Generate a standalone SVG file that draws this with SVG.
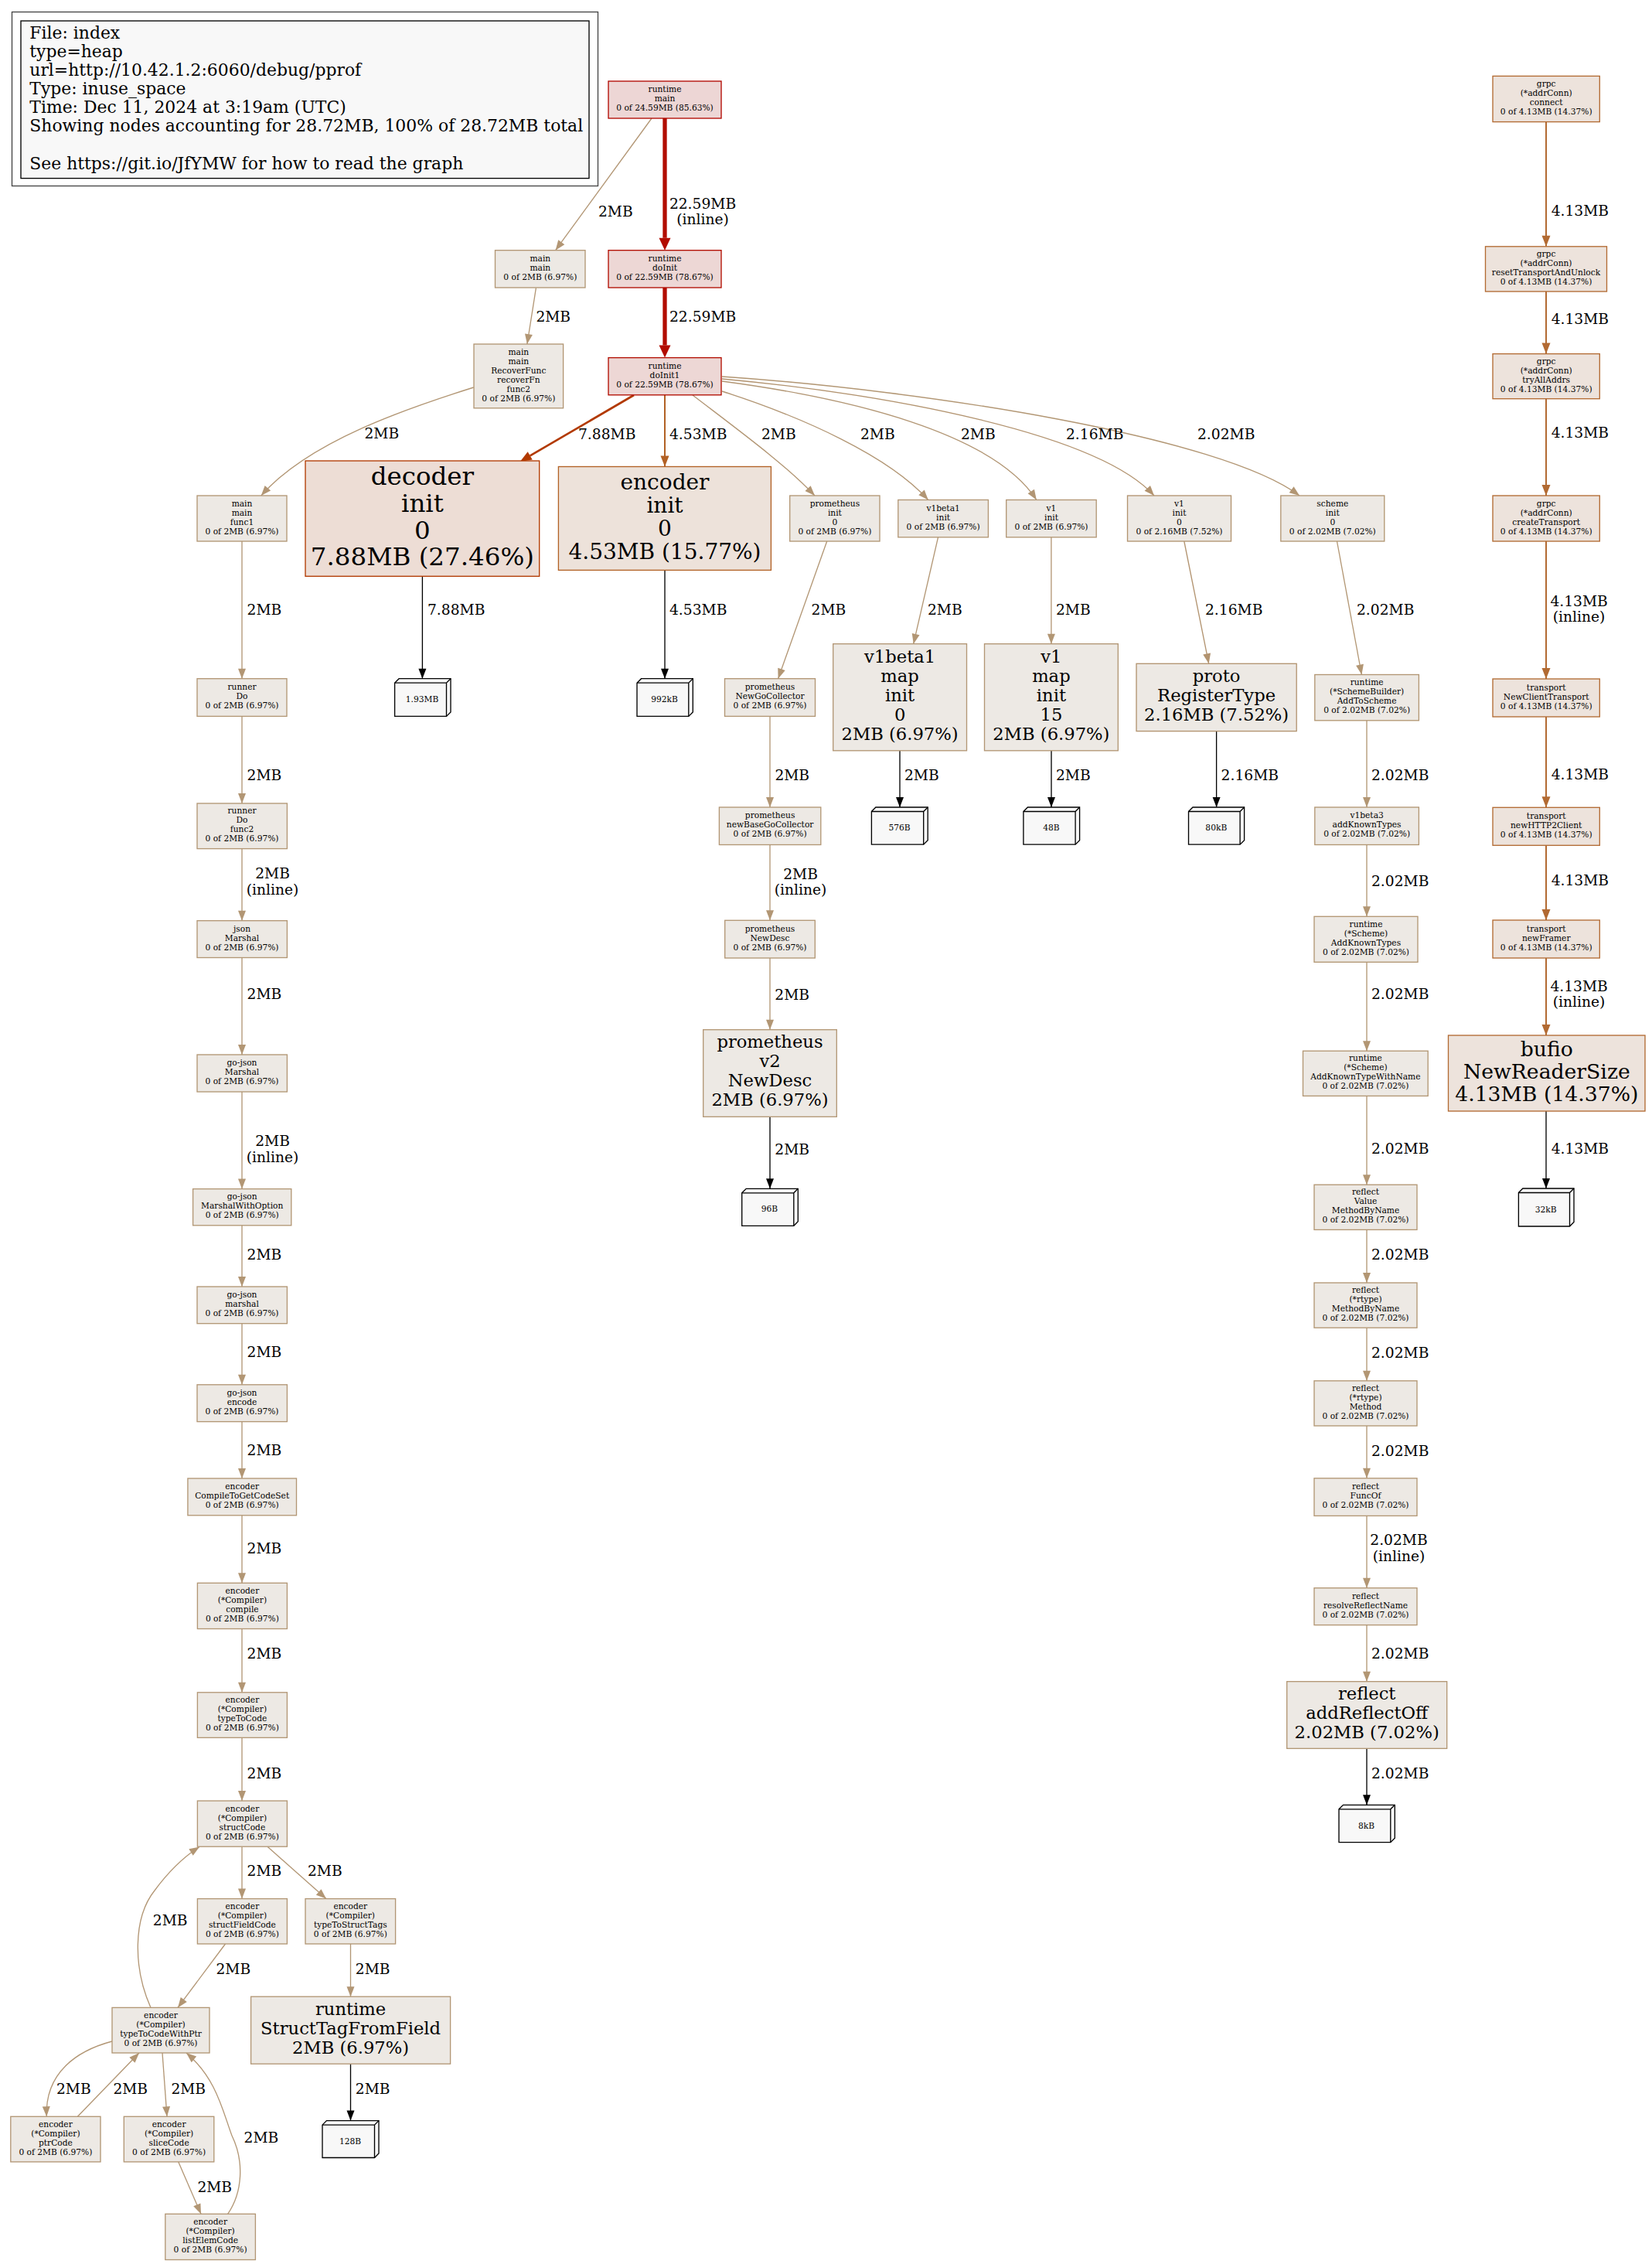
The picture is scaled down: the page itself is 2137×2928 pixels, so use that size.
<svg xmlns="http://www.w3.org/2000/svg" width="2137" height="2928" viewBox="0 0 2137 2928">
<style>
text{font-family:"DejaVu Serif","Liberation Serif",serif;fill:#000}
.s{font-size:10.67px;text-anchor:middle}
.e{font-size:18.67px}
.em{font-size:18.67px;text-anchor:middle}
.lg{font-size:21.9px}
.b32{font-size:32.5px;text-anchor:middle}
.b28{font-size:28px;text-anchor:middle}
.b26{font-size:26.67px;text-anchor:middle}
.b22{font-size:22.67px;text-anchor:middle}
rect,.leaf{stroke-width:1.33}
.c2{fill:#ede9e4;stroke:#b29674}
.c216{fill:#ede9e4;stroke:#b2936f}
.c202{fill:#ede9e4;stroke:#b29673}
.crm{fill:#edd6d5;stroke:#b20800}
.cri{fill:#edd7d5;stroke:#b20c00}
.cdec{fill:#edddd5;stroke:#b23900}
.cenc{fill:#ede2da;stroke:#b26125}
.cgr{fill:#ede3dc;stroke:#b26a32}
.leaf{fill:#f8f8f8;stroke:#000}
.leafl{fill:none;stroke:#000;stroke-width:1.33}
#edges path{fill:none}
.k2{stroke:#b29674;stroke-width:1.33;marker-end:url(#a2)}
.k216{stroke:#b2936f;stroke-width:1.33;marker-end:url(#a216)}
.k202{stroke:#b29673;stroke-width:1.33;marker-end:url(#a202)}
.kred{stroke:#b20c00;stroke-width:5.3;marker-end:url(#ared)}
.kdec{stroke:#b23900;stroke-width:2.67;marker-end:url(#adec)}
.kenc{stroke:#b26125;stroke-width:2;marker-end:url(#aenc)}
.kgr{stroke:#b26a32;stroke-width:2;marker-end:url(#agr)}
.kblk{stroke:#000;stroke-width:1.33;marker-end:url(#ablk)}
</style>
<defs>
<marker id="a2" markerUnits="userSpaceOnUse" markerWidth="14" markerHeight="11" refX="13" refY="5" orient="auto" overflow="visible"><path d="M0,0 L13,5 L0,10 z" fill="#b29674"/></marker>
<marker id="a216" markerUnits="userSpaceOnUse" markerWidth="14" markerHeight="11" refX="13" refY="5" orient="auto" overflow="visible"><path d="M0,0 L13,5 L0,10 z" fill="#b2936f"/></marker>
<marker id="a202" markerUnits="userSpaceOnUse" markerWidth="14" markerHeight="11" refX="13" refY="5" orient="auto" overflow="visible"><path d="M0,0 L13,5 L0,10 z" fill="#b29673"/></marker>
<marker id="ablk" markerUnits="userSpaceOnUse" markerWidth="14" markerHeight="11" refX="13" refY="5" orient="auto" overflow="visible"><path d="M0,0 L13,5 L0,10 z" fill="#000"/></marker>
<marker id="aenc" markerUnits="userSpaceOnUse" markerWidth="15" markerHeight="12" refX="14" refY="5.5" orient="auto" overflow="visible"><path d="M0,0 L14,5.5 L0,11 z" fill="#b26125"/></marker>
<marker id="agr" markerUnits="userSpaceOnUse" markerWidth="15" markerHeight="12" refX="14" refY="5.5" orient="auto" overflow="visible"><path d="M0,0 L14,5.5 L0,11 z" fill="#b26a32"/></marker>
<marker id="ared" markerUnits="userSpaceOnUse" markerWidth="17" markerHeight="16" refX="0" refY="7.5" orient="auto" overflow="visible"><path d="M0,0 L16,7.5 L0,15 z" fill="#b20c00"/></marker>
<marker id="adec" markerUnits="userSpaceOnUse" markerWidth="16" markerHeight="13" refX="0" refY="6" orient="auto" overflow="visible"><path d="M0,0 L15,6 L0,12 z" fill="#b23900"/></marker>
</defs>
<rect x="0" y="0" width="2137" height="2928" fill="#fff" stroke="none"/>

<g id="legend">
<rect x="15.5" y="15.5" width="758" height="225" fill="none" stroke="#444" stroke-width="2"/>
<rect x="27" y="27" width="735" height="203.6" fill="#f8f8f8" stroke="#000"/>
<text class="lg" x="38.3" y="49.5">File: index</text>
<text class="lg" x="38.3" y="73.6">type=heap</text>
<text class="lg" x="38.3" y="97.8">url=http://10.42.1.2:6060/debug/pprof</text>
<text class="lg" x="38.3" y="121.9">Type: inuse_space</text>
<text class="lg" x="38.3" y="146.1">Time: Dec 11, 2024 at 3:19am (UTC)</text>
<text class="lg" x="38.3" y="170.2">Showing nodes accounting for 28.72MB, 100% of 28.72MB total</text>
<text class="lg" x="38.3" y="218.6">See https://git.io/JfYMW for how to read the graph</text>
</g>

<g id="edges">
<path class="k2" d="M843,153 L718.6,323.7"/>
<path class="kred" d="M860,153 L860,307.7"/>
<path class="kred" d="M860,372 L860,446.6"/>
<path class="k2" d="M693.4,372.4 L681.9,445"/>
<path class="k2" d="M612.7,501 C530,527 400,570 337.8,641"/>
<path class="kdec" d="M820,511 L685.7,589.4"/>
<path class="kenc" d="M860,510.8 L860,603.5"/>
<path class="k2" d="M896,511 C960,560 1015,600 1054,641"/>
<path class="k2" d="M934,506 C1040,540 1150,590 1200.7,646.5"/>
<path class="k2" d="M934,493 C1100,515 1285,560 1340.8,646.5"/>
<path class="k216" d="M934,490 C1150,510 1420,560 1493,641"/>
<path class="k202" d="M934,487 C1200,505 1580,565 1681,641"/>
<path class="k2" d="M313,700 L313,877.7"/>
<path class="kblk" d="M546.4,745.3 L546.4,877.7"/>
<path class="kblk" d="M860,737.4 L860,877.7"/>
<path class="k2" d="M1069.7,700 L1006.6,877.7"/>
<path class="k2" d="M1213.5,694.8 L1181.7,832.7"/>
<path class="k2" d="M1359.9,694.8 L1359.9,832.7"/>
<path class="k216" d="M1531.8,700 L1563.7,858.3"/>
<path class="k202" d="M1729.5,700 L1761.4,872.5"/>
<path class="k2" d="M313,926.4 L313,1039"/>
<path class="k2" d="M996,926.4 L996,1044"/>
<path class="kblk" d="M1164,970.8 L1164,1044"/>
<path class="kblk" d="M1360,970.8 L1360,1044"/>
<path class="kblk" d="M1573.6,945.6 L1573.6,1044"/>
<path class="k202" d="M1768,931.8 L1768,1044"/>
<path class="k2" d="M313,1097.6 L313,1190.7"/>
<path class="k2" d="M996,1092.5 L996,1190.3"/>
<path class="k202" d="M1768,1092.5 L1768,1185.3"/>
<path class="k2" d="M313,1238.5 L313,1364"/>
<path class="k2" d="M996,1239 L996,1331.7"/>
<path class="k202" d="M1768,1244.3 L1768,1359.2"/>
<path class="kblk" d="M996,1444.3 L996,1537.3"/>
<path class="k2" d="M313,1412 L313,1537.6"/>
<path class="k202" d="M1768,1417.4 L1768,1532.2"/>
<path class="k2" d="M313,1584.8 L313,1664"/>
<path class="k202" d="M1768,1590.4 L1768,1659"/>
<path class="k2" d="M313,1711.7 L313,1790.8"/>
<path class="k202" d="M1768,1717.2 L1768,1785.8"/>
<path class="k2" d="M313,1838.6 L313,1912"/>
<path class="k202" d="M1768,1844 L1768,1911.8"/>
<path class="k2" d="M313,1959.8 L313,2047.3"/>
<path class="k202" d="M1768,1960.4 L1768,2053.7"/>
<path class="k2" d="M313,2106.5 L313,2188.8"/>
<path class="k202" d="M1768,2101.6 L1768,2174.7"/>
<path class="kblk" d="M1768,2261.3 L1768,2334.3"/>
<path class="k2" d="M313,2247.3 L313,2329"/>
<path class="k2" d="M313,2388.2 L313,2455.6"/>
<path class="k2" d="M346,2388.2 L421.9,2455.6"/>
<path class="k2" d="M195,2596.4 C172,2545 172,2480 200,2445 C220,2418 240,2400 258,2388.5"/>
<path class="k2" d="M291.5,2514 L230,2596.4"/>
<path class="k2" d="M453.5,2514 L453.5,2582.2"/>
<path class="kblk" d="M453.5,2669.2 L453.5,2742.6"/>
<path class="k2" d="M145,2640 C100,2652 58,2680 60.3,2737.3"/>
<path class="k2" d="M100.4,2737.3 L180,2655"/>
<path class="k2" d="M210,2655 L216,2737.3"/>
<path class="k2" d="M230.8,2795.9 L260,2863.3"/>
<path class="k2" d="M294.6,2863.3 C314,2835 316,2795 300,2762 C288,2730 280,2688 241,2655"/>
<path class="kgr" d="M2000,157.6 L2000,318.8"/>
<path class="kgr" d="M2000,377 L2000,457.6"/>
<path class="kgr" d="M2000,515.7 L2000,641"/>
<path class="kgr" d="M2000,700 L2000,878"/>
<path class="kgr" d="M2000,927 L2000,1044.3"/>
<path class="kgr" d="M2000,1093.3 L2000,1190"/>
<path class="kgr" d="M2000,1239 L2000,1339"/>
<path class="kblk" d="M2000,1437 L2000,1537"/>
<g id="edge-labels">
<text class="e" x="774" y="279.5">2MB</text>
<text class="em" x="909" y="269.5">22.59MB</text>
<text class="em" x="909" y="290">(inline)</text>
<text class="e" x="866" y="416">22.59MB</text>
<text class="e" x="693.4" y="416.4">2MB</text>
<text class="e" x="471.5" y="567">2MB</text>
<text class="e" x="748" y="567.5">7.88MB</text>
<text class="e" x="866" y="567.5">4.53MB</text>
<text class="e" x="985" y="567.5">2MB</text>
<text class="e" x="1113" y="567.5">2MB</text>
<text class="e" x="1243" y="567.5">2MB</text>
<text class="e" x="1379" y="567.5">2.16MB</text>
<text class="e" x="1549" y="567.5">2.02MB</text>
<text class="e" x="319.6" y="794.5">2MB</text>
<text class="e" x="553" y="794.5">7.88MB</text>
<text class="e" x="866" y="794.5">4.53MB</text>
<text class="e" x="1049.6" y="794.5">2MB</text>
<text class="e" x="1200" y="794.5">2MB</text>
<text class="e" x="1366" y="794.5">2MB</text>
<text class="e" x="1559" y="794.5">2.16MB</text>
<text class="e" x="1755" y="794.5">2.02MB</text>
<text class="e" x="319.6" y="1009">2MB</text>
<text class="e" x="1002.4" y="1009">2MB</text>
<text class="e" x="1170" y="1009">2MB</text>
<text class="e" x="1366" y="1009">2MB</text>
<text class="e" x="1579.6" y="1009">2.16MB</text>
<text class="e" x="1774" y="1009">2.02MB</text>
<text class="em" x="352.6" y="1136">2MB</text>
<text class="em" x="352.6" y="1157">(inline)</text>
<text class="em" x="1035.5" y="1136.5">2MB</text>
<text class="em" x="1035.5" y="1156.5">(inline)</text>
<text class="e" x="1774" y="1146">2.02MB</text>
<text class="e" x="319.6" y="1292.2">2MB</text>
<text class="e" x="1002.3" y="1293.2">2MB</text>
<text class="e" x="1774" y="1291.5">2.02MB</text>
<text class="em" x="352.6" y="1481.5">2MB</text>
<text class="em" x="352.6" y="1502.5">(inline)</text>
<text class="e" x="1002.3" y="1493.2">2MB</text>
<text class="e" x="1774" y="1491.5">2.02MB</text>
<text class="e" x="319.6" y="1628.9">2MB</text>
<text class="e" x="1774" y="1628.5">2.02MB</text>
<text class="e" x="319.6" y="1755.2">2MB</text>
<text class="e" x="1774" y="1755.5">2.02MB</text>
<text class="e" x="319.6" y="1882.1">2MB</text>
<text class="e" x="1774" y="1882.5">2.02MB</text>
<text class="e" x="319.6" y="2009">2MB</text>
<text class="em" x="1809.5" y="1998">2.02MB</text>
<text class="em" x="1809.5" y="2018.5">(inline)</text>
<text class="e" x="319.6" y="2145">2MB</text>
<text class="e" x="1774" y="2144.5">2.02MB</text>
<text class="e" x="319.6" y="2299.5">2MB</text>
<text class="e" x="1774" y="2299.8">2.02MB</text>
<text class="e" x="319.6" y="2426">2MB</text>
<text class="e" x="398" y="2426">2MB</text>
<text class="e" x="197.8" y="2489.9">2MB</text>
<text class="e" x="279.5" y="2552.5">2MB</text>
<text class="e" x="459.8" y="2552.5">2MB</text>
<text class="e" x="73" y="2707.5">2MB</text>
<text class="e" x="146.4" y="2707.5">2MB</text>
<text class="e" x="221.4" y="2707.5">2MB</text>
<text class="e" x="459.8" y="2707.5">2MB</text>
<text class="e" x="315.6" y="2771">2MB</text>
<text class="e" x="255.4" y="2834.5">2MB</text>
<text class="e" x="2006.7" y="278.5">4.13MB</text>
<text class="e" x="2006.7" y="418.5">4.13MB</text>
<text class="e" x="2006.7" y="566">4.13MB</text>
<text class="em" x="2042.6" y="783.5">4.13MB</text>
<text class="em" x="2042.6" y="804">(inline)</text>
<text class="e" x="2006.7" y="1008">4.13MB</text>
<text class="e" x="2006.7" y="1144.5">4.13MB</text>
<text class="em" x="2042.6" y="1281.5">4.13MB</text>
<text class="em" x="2042.6" y="1302">(inline)</text>
<text class="e" x="2006.7" y="1491.5">4.13MB</text>
</g>
</g>

<g id="n-runtime-main"><rect class="crm" x="787" y="105" width="146" height="48"/><text class="s" x="860" y="119.1"><tspan x="860">runtime</tspan><tspan x="860" dy="12">main</tspan><tspan x="860" dy="12">0 of 24.59MB (85.63%)</tspan></text></g>
<g id="n-runtime-doInit"><rect class="cri" x="787" y="323.7" width="146" height="48.3"/><text class="s" x="860" y="338"><tspan x="860">runtime</tspan><tspan x="860" dy="12">doInit</tspan><tspan x="860" dy="12">0 of 22.59MB (78.67%)</tspan></text></g>
<g id="n-runtime-doInit1"><rect class="cri" x="787" y="462.6" width="146" height="48.2"/><text class="s" x="860" y="476.8"><tspan x="860">runtime</tspan><tspan x="860" dy="12">doInit1</tspan><tspan x="860" dy="12">0 of 22.59MB (78.67%)</tspan></text></g>
<g id="n-main-main"><rect class="c2" x="640.5" y="323.7" width="116.5" height="48.3"/><text class="s" x="698.8" y="338"><tspan x="698.8">main</tspan><tspan x="698.8" dy="12">main</tspan><tspan x="698.8" dy="12">0 of 2MB (6.97%)</tspan></text></g>
<g id="n-recoverfunc"><rect class="c2" x="613" y="445" width="115.6" height="82.8"/><text class="s" x="670.8" y="458.5"><tspan x="670.8">main</tspan><tspan x="670.8" dy="12">main</tspan><tspan x="670.8" dy="12">RecoverFunc</tspan><tspan x="670.8" dy="12">recoverFn</tspan><tspan x="670.8" dy="12">func2</tspan><tspan x="670.8" dy="12">0 of 2MB (6.97%)</tspan></text></g>
<g id="n-main-func1"><rect class="c2" x="255" y="641" width="116" height="59"/><text class="s" x="313" y="654.6"><tspan x="313">main</tspan><tspan x="313" dy="12">main</tspan><tspan x="313" dy="12">func1</tspan><tspan x="313" dy="12">0 of 2MB (6.97%)</tspan></text></g>
<g id="n-decoder-init"><rect class="cdec" x="395" y="596" width="302.7" height="149.3"/><text class="b32" x="546.4" y="627.3"><tspan x="546.4">decoder</tspan><tspan x="546.4" dy="34.6">init</tspan><tspan x="546.4" dy="34.6">0</tspan><tspan x="546.4" dy="34.6">7.88MB (27.46%)</tspan></text></g>
<g id="n-encoder-init"><rect class="cenc" x="722.4" y="603.5" width="275" height="133.9"/><text class="b28" x="860" y="633.2"><tspan x="860">encoder</tspan><tspan x="860" dy="30">init</tspan><tspan x="860" dy="30">0</tspan><tspan x="860" dy="30">4.53MB (15.77%)</tspan></text></g>
<g id="n-prometheus-init"><rect class="c2" x="1021.7" y="641" width="116.3" height="59"/><text class="s" x="1079.9" y="654.6"><tspan x="1079.9">prometheus</tspan><tspan x="1079.9" dy="12">init</tspan><tspan x="1079.9" dy="12">0</tspan><tspan x="1079.9" dy="12">0 of 2MB (6.97%)</tspan></text></g>
<g id="n-v1beta1-init"><rect class="c2" x="1161.8" y="646.5" width="116.6" height="48.3"/><text class="s" x="1220.1" y="660.8"><tspan x="1220.1">v1beta1</tspan><tspan x="1220.1" dy="12">init</tspan><tspan x="1220.1" dy="12">0 of 2MB (6.97%)</tspan></text></g>
<g id="n-v1-init"><rect class="c2" x="1301.7" y="646.5" width="116.5" height="48.3"/><text class="s" x="1360" y="660.8"><tspan x="1360">v1</tspan><tspan x="1360" dy="12">init</tspan><tspan x="1360" dy="12">0 of 2MB (6.97%)</tspan></text></g>
<g id="n-v1-init-0"><rect class="c216" x="1458.5" y="641" width="134" height="59"/><text class="s" x="1525.5" y="654.6"><tspan x="1525.5">v1</tspan><tspan x="1525.5" dy="12">init</tspan><tspan x="1525.5" dy="12">0</tspan><tspan x="1525.5" dy="12">0 of 2.16MB (7.52%)</tspan></text></g>
<g id="n-scheme-init"><rect class="c202" x="1656.8" y="641" width="134" height="59"/><text class="s" x="1723.8" y="654.6"><tspan x="1723.8">scheme</tspan><tspan x="1723.8" dy="12">init</tspan><tspan x="1723.8" dy="12">0</tspan><tspan x="1723.8" dy="12">0 of 2.02MB (7.02%)</tspan></text></g>

<g id="leaf-1-93MB"><path class="leaf" d="M510.6,883.2 L516.1,877.7 L583,877.7 L583,920.9 L577.5,926.4 L510.6,926.4 Z"/><path class="leafl" d="M510.6,883.2 L577.5,883.2 L583,877.7 M577.5,883.2 L577.5,926.4"/><text class="s" x="546" y="908.4">1.93MB</text></g>
<g id="leaf-992kB"><path class="leaf" d="M824,883.2 L829.5,877.7 L896.3,877.7 L896.3,920.9 L890.8,926.4 L824,926.4 Z"/><path class="leafl" d="M824,883.2 L890.8,883.2 L896.3,877.7 M890.8,883.2 L890.8,926.4"/><text class="s" x="859.5" y="908.4">992kB</text></g>
<g id="n-runner-do"><rect class="c2" x="255" y="877.7" width="116" height="48.7"/><text class="s" x="313" y="892.2"><tspan x="313">runner</tspan><tspan x="313" dy="12">Do</tspan><tspan x="313" dy="12">0 of 2MB (6.97%)</tspan></text></g>
<g id="n-newgocollector"><rect class="c2" x="937.5" y="877.7" width="117" height="48.7"/><text class="s" x="996" y="892.2"><tspan x="996">prometheus</tspan><tspan x="996" dy="12">NewGoCollector</tspan><tspan x="996" dy="12">0 of 2MB (6.97%)</tspan></text></g>
<g id="n-v1beta1-map-init"><rect class="c2" x="1077.7" y="832.7" width="172.8" height="138.1"/><text class="b22" x="1164.1" y="857"><tspan x="1164.1">v1beta1</tspan><tspan x="1164.1" dy="25">map</tspan><tspan x="1164.1" dy="25">init</tspan><tspan x="1164.1" dy="25">0</tspan><tspan x="1164.1" dy="25">2MB (6.97%)</tspan></text></g>
<g id="n-v1-map-init"><rect class="c2" x="1273.5" y="832.7" width="172.8" height="138.1"/><text class="b22" x="1359.9" y="857"><tspan x="1359.9">v1</tspan><tspan x="1359.9" dy="25">map</tspan><tspan x="1359.9" dy="25">init</tspan><tspan x="1359.9" dy="25">15</tspan><tspan x="1359.9" dy="25">2MB (6.97%)</tspan></text></g>
<g id="n-proto-registertype"><rect class="c216" x="1470" y="858.3" width="207.2" height="87.3"/><text class="b22" x="1573.6" y="882.3"><tspan x="1573.6">proto</tspan><tspan x="1573.6" dy="25">RegisterType</tspan><tspan x="1573.6" dy="25">2.16MB (7.52%)</tspan></text></g>
<g id="n-addtoscheme"><rect class="c202" x="1700.8" y="872.5" width="134.6" height="59.3"/><text class="s" x="1768.1" y="886.3"><tspan x="1768.1">runtime</tspan><tspan x="1768.1" dy="12">(*SchemeBuilder)</tspan><tspan x="1768.1" dy="12">AddToScheme</tspan><tspan x="1768.1" dy="12">0 of 2.02MB (7.02%)</tspan></text></g>
<g id="n-runner-do-func2"><rect class="c2" x="255" y="1039" width="116.4" height="58.6"/><text class="s" x="313" y="1052.4"><tspan x="313">runner</tspan><tspan x="313" dy="12">Do</tspan><tspan x="313" dy="12">func2</tspan><tspan x="313" dy="12">0 of 2MB (6.97%)</tspan></text></g>
<g id="n-newbasegocollector"><rect class="c2" x="930.4" y="1044" width="131.4" height="48.5"/><text class="s" x="996.1" y="1058.4"><tspan x="996.1">prometheus</tspan><tspan x="996.1" dy="12">newBaseGoCollector</tspan><tspan x="996.1" dy="12">0 of 2MB (6.97%)</tspan></text></g>
<g id="leaf-576B"><path class="leaf" d="M1127.4,1049.5 L1132.9,1044 L1200.2,1044 L1200.2,1086.7 L1194.7,1092.2 L1127.4,1092.2 Z"/><path class="leafl" d="M1127.4,1049.5 L1194.7,1049.5 L1200.2,1044 M1194.7,1049.5 L1194.7,1092.2"/><text class="s" x="1163.5" y="1074">576B</text></g>
<g id="leaf-48B"><path class="leaf" d="M1323.9,1049.5 L1329.4,1044 L1396.6,1044 L1396.6,1086.7 L1391.1,1092.2 L1323.9,1092.2 Z"/><path class="leafl" d="M1323.9,1049.5 L1391.1,1049.5 L1396.6,1044 M1391.1,1049.5 L1391.1,1092.2"/><text class="s" x="1360" y="1074">48B</text></g>
<g id="leaf-80kB"><path class="leaf" d="M1537.5,1049.5 L1543,1044 L1609.6,1044 L1609.6,1086.7 L1604.1,1092.2 L1537.5,1092.2 Z"/><path class="leafl" d="M1537.5,1049.5 L1604.1,1049.5 L1609.6,1044 M1604.1,1049.5 L1604.1,1092.2"/><text class="s" x="1573.3" y="1074">80kB</text></g>
<g id="n-v1beta3-addknowntypes"><rect class="c202" x="1700.8" y="1044" width="134.6" height="48.5"/><text class="s" x="1768.1" y="1058.4"><tspan x="1768.1">v1beta3</tspan><tspan x="1768.1" dy="12">addKnownTypes</tspan><tspan x="1768.1" dy="12">0 of 2.02MB (7.02%)</tspan></text></g>
<g id="n-json-marshal"><rect class="c2" x="255" y="1190.7" width="116.4" height="47.8"/><text class="s" x="313" y="1204.7"><tspan x="313">json</tspan><tspan x="313" dy="12">Marshal</tspan><tspan x="313" dy="12">0 of 2MB (6.97%)</tspan></text></g>
<g id="n-prometheus-newdesc"><rect class="c2" x="937.7" y="1190.3" width="116.6" height="48.7"/><text class="s" x="996" y="1204.8"><tspan x="996">prometheus</tspan><tspan x="996" dy="12">NewDesc</tspan><tspan x="996" dy="12">0 of 2MB (6.97%)</tspan></text></g>
<g id="n-scheme-addknowntypes"><rect class="c202" x="1700" y="1185.3" width="134" height="59"/><text class="s" x="1767" y="1198.9"><tspan x="1767">runtime</tspan><tspan x="1767" dy="12">(*Scheme)</tspan><tspan x="1767" dy="12">AddKnownTypes</tspan><tspan x="1767" dy="12">0 of 2.02MB (7.02%)</tspan></text></g>
<g id="n-v2-newdesc"><rect class="c2" x="909.7" y="1331.7" width="172.6" height="112.6"/><text class="b22" x="996" y="1355.2"><tspan x="996">prometheus</tspan><tspan x="996" dy="25">v2</tspan><tspan x="996" dy="25">NewDesc</tspan><tspan x="996" dy="25">2MB (6.97%)</tspan></text></g>
<g id="n-gojson-marshal"><rect class="c2" x="255" y="1364" width="116.4" height="48"/><text class="s" x="313" y="1378.1"><tspan x="313">go-json</tspan><tspan x="313" dy="12">Marshal</tspan><tspan x="313" dy="12">0 of 2MB (6.97%)</tspan></text></g>
<g id="n-addknowntypewithname"><rect class="c202" x="1685.5" y="1359.2" width="161.7" height="58.2"/><text class="s" x="1766.4" y="1372.4"><tspan x="1766.4">runtime</tspan><tspan x="1766.4" dy="12">(*Scheme)</tspan><tspan x="1766.4" dy="12">AddKnownTypeWithName</tspan><tspan x="1766.4" dy="12">0 of 2.02MB (7.02%)</tspan></text></g>
<g id="leaf-96B"><path class="leaf" d="M959.7,1542.8 L965.2,1537.3 L1032.3,1537.3 L1032.3,1579.8 L1026.8,1585.3 L959.7,1585.3 Z"/><path class="leafl" d="M959.7,1542.8 L1026.8,1542.8 L1032.3,1537.3 M1026.8,1542.8 L1026.8,1585.3"/><text class="s" x="995.5" y="1567">96B</text></g>
<g id="n-marshalwithoption"><rect class="c2" x="249.6" y="1537.6" width="127.2" height="47.2"/><text class="s" x="313.2" y="1551.3"><tspan x="313.2">go-json</tspan><tspan x="313.2" dy="12">MarshalWithOption</tspan><tspan x="313.2" dy="12">0 of 2MB (6.97%)</tspan></text></g>
<g id="n-value-methodbyname"><rect class="c202" x="1700" y="1532.2" width="133" height="58.2"/><text class="s" x="1766.5" y="1545.4"><tspan x="1766.5">reflect</tspan><tspan x="1766.5" dy="12">Value</tspan><tspan x="1766.5" dy="12">MethodByName</tspan><tspan x="1766.5" dy="12">0 of 2.02MB (7.02%)</tspan></text></g>
<g id="n-gojson-marshal-lc"><rect class="c2" x="255" y="1664" width="116.4" height="47.7"/><text class="s" x="313" y="1678"><tspan x="313">go-json</tspan><tspan x="313" dy="12">marshal</tspan><tspan x="313" dy="12">0 of 2MB (6.97%)</tspan></text></g>
<g id="n-rtype-methodbyname"><rect class="c202" x="1700" y="1659" width="133" height="58.2"/><text class="s" x="1766.5" y="1672.2"><tspan x="1766.5">reflect</tspan><tspan x="1766.5" dy="12">(*rtype)</tspan><tspan x="1766.5" dy="12">MethodByName</tspan><tspan x="1766.5" dy="12">0 of 2.02MB (7.02%)</tspan></text></g>
<g id="n-gojson-encode"><rect class="c2" x="255" y="1790.8" width="116.4" height="47.8"/><text class="s" x="313" y="1804.8"><tspan x="313">go-json</tspan><tspan x="313" dy="12">encode</tspan><tspan x="313" dy="12">0 of 2MB (6.97%)</tspan></text></g>
<g id="n-rtype-method"><rect class="c202" x="1700" y="1785.8" width="133" height="58.2"/><text class="s" x="1766.5" y="1799"><tspan x="1766.5">reflect</tspan><tspan x="1766.5" dy="12">(*rtype)</tspan><tspan x="1766.5" dy="12">Method</tspan><tspan x="1766.5" dy="12">0 of 2.02MB (7.02%)</tspan></text></g>
<g id="n-compiletogetcodeset"><rect class="c2" x="242.9" y="1912" width="140.6" height="47.8"/><text class="s" x="313.2" y="1926"><tspan x="313.2">encoder</tspan><tspan x="313.2" dy="12">CompileToGetCodeSet</tspan><tspan x="313.2" dy="12">0 of 2MB (6.97%)</tspan></text></g>
<g id="n-funcof"><rect class="c202" x="1700" y="1911.8" width="133" height="48.6"/><text class="s" x="1766.5" y="1926.2"><tspan x="1766.5">reflect</tspan><tspan x="1766.5" dy="12">FuncOf</tspan><tspan x="1766.5" dy="12">0 of 2.02MB (7.02%)</tspan></text></g>
<g id="n-compiler-compile"><rect class="c2" x="255.4" y="2047.3" width="116" height="59.2"/><text class="s" x="313.4" y="2061"><tspan x="313.4">encoder</tspan><tspan x="313.4" dy="12">(*Compiler)</tspan><tspan x="313.4" dy="12">compile</tspan><tspan x="313.4" dy="12">0 of 2MB (6.97%)</tspan></text></g>
<g id="n-resolvereflectname"><rect class="c202" x="1700" y="2053.7" width="133" height="47.9"/><text class="s" x="1766.5" y="2067.8"><tspan x="1766.5">reflect</tspan><tspan x="1766.5" dy="12">resolveReflectName</tspan><tspan x="1766.5" dy="12">0 of 2.02MB (7.02%)</tspan></text></g>
<g id="n-addreflectoff"><rect class="c202" x="1664.7" y="2174.7" width="207" height="86.6"/><text class="b22" x="1768.2" y="2197.5"><tspan x="1768.2">reflect</tspan><tspan x="1768.2" dy="25">addReflectOff</tspan><tspan x="1768.2" dy="25">2.02MB (7.02%)</tspan></text></g>
<g id="n-typetocode"><rect class="c2" x="255.4" y="2188.8" width="116" height="58.5"/><text class="s" x="313.4" y="2202.2"><tspan x="313.4">encoder</tspan><tspan x="313.4" dy="12">(*Compiler)</tspan><tspan x="313.4" dy="12">typeToCode</tspan><tspan x="313.4" dy="12">0 of 2MB (6.97%)</tspan></text></g>
<g id="leaf-8kB"><path class="leaf" d="M1732,2339.8 L1737.5,2334.3 L1804.3,2334.3 L1804.3,2377.2 L1798.8,2382.7 L1732,2382.7 Z"/><path class="leafl" d="M1732,2339.8 L1798.8,2339.8 L1804.3,2334.3 M1798.8,2339.8 L1798.8,2382.7"/><text class="s" x="1767.5" y="2365">8kB</text></g>
<g id="n-structcode"><rect class="c2" x="255.4" y="2329" width="116" height="59.2"/><text class="s" x="313.4" y="2342.7"><tspan x="313.4">encoder</tspan><tspan x="313.4" dy="12">(*Compiler)</tspan><tspan x="313.4" dy="12">structCode</tspan><tspan x="313.4" dy="12">0 of 2MB (6.97%)</tspan></text></g>
<g id="n-structfieldcode"><rect class="c2" x="255.4" y="2455.6" width="116" height="58.4"/><text class="s" x="313.4" y="2468.9"><tspan x="313.4">encoder</tspan><tspan x="313.4" dy="12">(*Compiler)</tspan><tspan x="313.4" dy="12">structFieldCode</tspan><tspan x="313.4" dy="12">0 of 2MB (6.97%)</tspan></text></g>
<g id="n-typetostructtags"><rect class="c2" x="395" y="2455.6" width="116.6" height="58.4"/><text class="s" x="453.3" y="2468.9"><tspan x="453.3">encoder</tspan><tspan x="453.3" dy="12">(*Compiler)</tspan><tspan x="453.3" dy="12">typeToStructTags</tspan><tspan x="453.3" dy="12">0 of 2MB (6.97%)</tspan></text></g>
<g id="n-typetocodewithptr"><rect class="c2" x="145" y="2596.4" width="126" height="58.6"/><text class="s" x="208" y="2609.8"><tspan x="208">encoder</tspan><tspan x="208" dy="12">(*Compiler)</tspan><tspan x="208" dy="12">typeToCodeWithPtr</tspan><tspan x="208" dy="12">0 of 2MB (6.97%)</tspan></text></g>
<g id="n-structtagfromfield"><rect class="c2" x="324.6" y="2582.2" width="258" height="87"/><text class="b22" x="453.6" y="2606.3"><tspan x="453.6">runtime</tspan><tspan x="453.6" dy="25">StructTagFromField</tspan><tspan x="453.6" dy="25">2MB (6.97%)</tspan></text></g>
<g id="n-ptrcode"><rect class="c2" x="13.8" y="2737.3" width="116.2" height="58.6"/><text class="s" x="71.9" y="2750.7"><tspan x="71.9">encoder</tspan><tspan x="71.9" dy="12">(*Compiler)</tspan><tspan x="71.9" dy="12">ptrCode</tspan><tspan x="71.9" dy="12">0 of 2MB (6.97%)</tspan></text></g>
<g id="n-slicecode"><rect class="c2" x="160.3" y="2737.3" width="116.5" height="58.6"/><text class="s" x="218.6" y="2750.7"><tspan x="218.6">encoder</tspan><tspan x="218.6" dy="12">(*Compiler)</tspan><tspan x="218.6" dy="12">sliceCode</tspan><tspan x="218.6" dy="12">0 of 2MB (6.97%)</tspan></text></g>
<g id="leaf-128B"><path class="leaf" d="M417,2748.1 L422.5,2742.6 L490,2742.6 L490,2785 L484.5,2790.5 L417,2790.5 Z"/><path class="leafl" d="M417,2748.1 L484.5,2748.1 L490,2742.6 M484.5,2748.1 L484.5,2790.5"/><text class="s" x="453" y="2772.5">128B</text></g>
<g id="n-listelemcode"><rect class="c2" x="213.8" y="2863.3" width="116.6" height="59.2"/><text class="s" x="272.1" y="2877"><tspan x="272.1">encoder</tspan><tspan x="272.1" dy="12">(*Compiler)</tspan><tspan x="272.1" dy="12">listElemCode</tspan><tspan x="272.1" dy="12">0 of 2MB (6.97%)</tspan></text></g>

<g id="n-grpc-connect"><rect class="cgr" x="1931" y="98.4" width="138.3" height="59.2"/><text class="s" x="2000.2" y="112.1"><tspan x="2000.2">grpc</tspan><tspan x="2000.2" dy="12">(*addrConn)</tspan><tspan x="2000.2" dy="12">connect</tspan><tspan x="2000.2" dy="12">0 of 4.13MB (14.37%)</tspan></text></g>
<g id="n-grpc-reset"><rect class="cgr" x="1921.5" y="318.8" width="157" height="58.2"/><text class="s" x="2000" y="332"><tspan x="2000">grpc</tspan><tspan x="2000" dy="12">(*addrConn)</tspan><tspan x="2000" dy="12">resetTransportAndUnlock</tspan><tspan x="2000" dy="12">0 of 4.13MB (14.37%)</tspan></text></g>
<g id="n-grpc-tryalladdrs"><rect class="cgr" x="1931" y="457.6" width="138.3" height="58.1"/><text class="s" x="2000.2" y="470.8"><tspan x="2000.2">grpc</tspan><tspan x="2000.2" dy="12">(*addrConn)</tspan><tspan x="2000.2" dy="12">tryAllAddrs</tspan><tspan x="2000.2" dy="12">0 of 4.13MB (14.37%)</tspan></text></g>
<g id="n-grpc-createtransport"><rect class="cgr" x="1931" y="641" width="138.3" height="59"/><text class="s" x="2000.2" y="654.6"><tspan x="2000.2">grpc</tspan><tspan x="2000.2" dy="12">(*addrConn)</tspan><tspan x="2000.2" dy="12">createTransport</tspan><tspan x="2000.2" dy="12">0 of 4.13MB (14.37%)</tspan></text></g>
<g id="n-newclienttransport"><rect class="cgr" x="1931" y="878" width="138.3" height="49"/><text class="s" x="2000.2" y="892.6"><tspan x="2000.2">transport</tspan><tspan x="2000.2" dy="12">NewClientTransport</tspan><tspan x="2000.2" dy="12">0 of 4.13MB (14.37%)</tspan></text></g>
<g id="n-newhttp2client"><rect class="cgr" x="1931" y="1044.3" width="138.3" height="49"/><text class="s" x="2000.2" y="1058.9"><tspan x="2000.2">transport</tspan><tspan x="2000.2" dy="12">newHTTP2Client</tspan><tspan x="2000.2" dy="12">0 of 4.13MB (14.37%)</tspan></text></g>
<g id="n-newframer"><rect class="cgr" x="1931" y="1190" width="138.3" height="49"/><text class="s" x="2000.2" y="1204.6"><tspan x="2000.2">transport</tspan><tspan x="2000.2" dy="12">newFramer</tspan><tspan x="2000.2" dy="12">0 of 4.13MB (14.37%)</tspan></text></g>
<g id="n-bufio-newreadersize"><rect class="cgr" x="1873.5" y="1339" width="254.5" height="98"/><text class="b26" x="2000.8" y="1365.8"><tspan x="2000.8">bufio</tspan><tspan x="2000.8" dy="29">NewReaderSize</tspan><tspan x="2000.8" dy="29">4.13MB (14.37%)</tspan></text></g>
<g id="leaf-32kB"><path class="leaf" d="M1964.4,1542.5 L1969.9,1537 L2036,1537 L2036,1580.5 L2030.5,1586 L1964.4,1586 Z"/><path class="leafl" d="M1964.4,1542.5 L2030.5,1542.5 L2036,1537 M2030.5,1542.5 L2030.5,1586"/><text class="s" x="1999.7" y="1567.5">32kB</text></g>
</svg>
